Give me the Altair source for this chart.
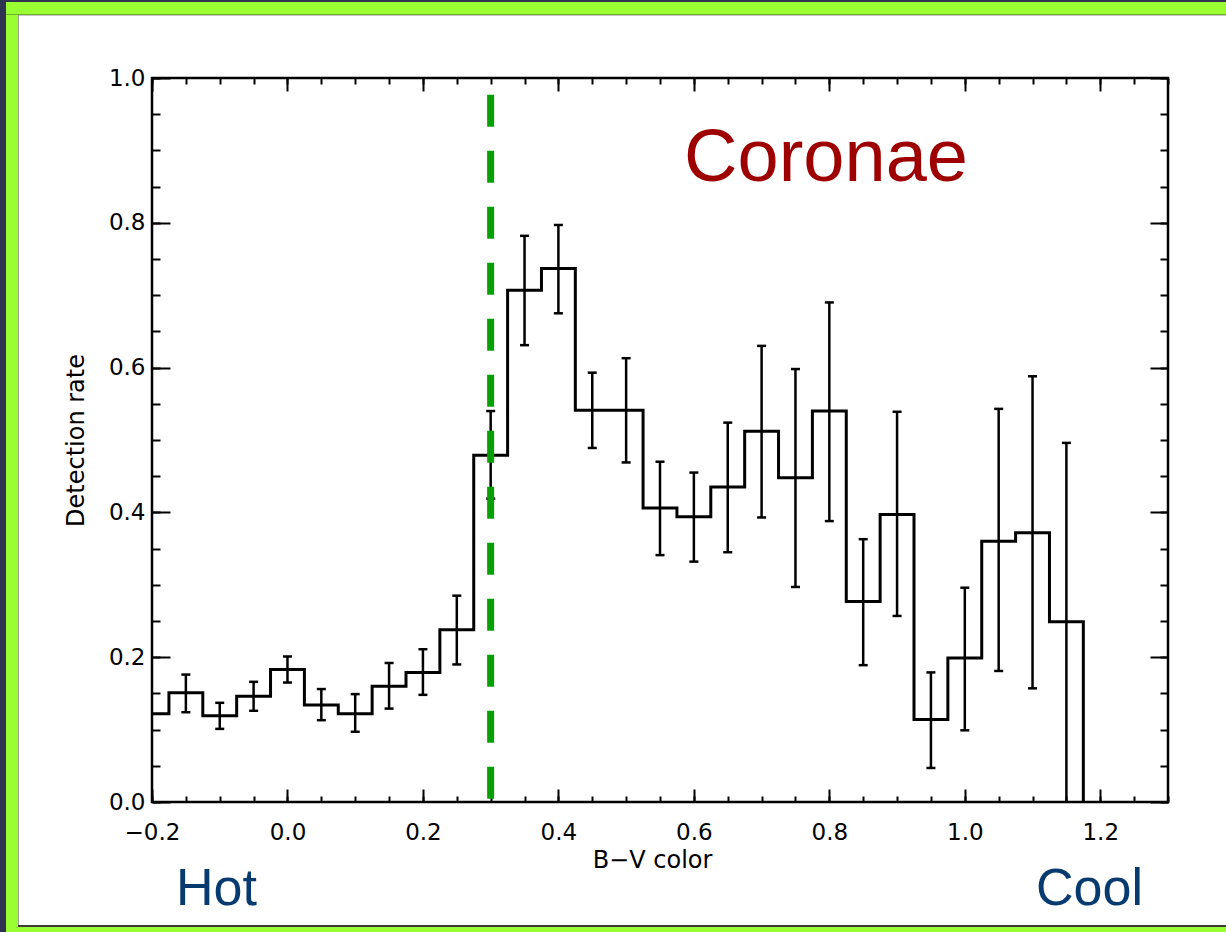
import altair as alt
import pandas as pd

# ---------------- data ----------------
bin_centers = [-0.20, -0.15, -0.10, -0.05, 0.00, 0.05, 0.10, 0.15, 0.20, 0.25,
               0.30, 0.35, 0.40, 0.45, 0.50, 0.55, 0.60, 0.65, 0.70, 0.75,
               0.80, 0.85, 0.90, 0.95, 1.00, 1.05, 1.10, 1.15]
detection_rates = [0.122, 0.151, 0.119, 0.146, 0.183, 0.134, 0.122, 0.160, 0.179, 0.238,
                   0.479, 0.707, 0.737, 0.541, 0.541, 0.406, 0.394, 0.435, 0.512, 0.448,
                   0.540, 0.277, 0.397, 0.114, 0.199, 0.360, 0.372, 0.249]
err_upper = [None, 0.176, 0.137, 0.166, 0.201, 0.156, 0.149, 0.192, 0.211, 0.285,
             0.540, 0.782, 0.797, 0.593, 0.613, 0.470, 0.455, 0.524, 0.630, 0.598,
             0.690, 0.363, 0.539, 0.179, 0.296, 0.543, 0.588, 0.496]
err_lower = [None, 0.124, 0.101, 0.126, 0.165, 0.113, 0.097, 0.129, 0.148, 0.190,
             0.419, 0.631, 0.675, 0.489, 0.469, 0.341, 0.332, 0.345, 0.393, 0.297,
             0.388, 0.189, 0.257, 0.047, 0.099, 0.181, 0.157, 0.000]

x_tick_labels = [-0.2, 0.0, 0.2, 0.4, 0.6, 0.8, 1.0, 1.2]
x_minor_ticks = [-0.2, -0.15, -0.1, -0.05, 0.0, 0.05, 0.1, 0.15, 0.2, 0.25, 0.3, 0.35,
                 0.4, 0.45, 0.5, 0.55, 0.6, 0.65, 0.7, 0.75, 0.8, 0.85, 0.9, 0.95,
                 1.0, 1.05, 1.1, 1.15, 1.2, 1.25, 1.3]
y_tick_labels = [0.0, 0.2, 0.4, 0.6, 0.8, 1.0]
y_minor_ticks = [0.0, 0.05, 0.1, 0.15, 0.2, 0.25, 0.3, 0.35, 0.4, 0.45, 0.5, 0.55,
                 0.6, 0.65, 0.7, 0.75, 0.8, 0.85, 0.9, 0.95, 1.0]

threshold_bv = [0.3]
threshold_top = [0.977]

x_domain = [-0.2, 1.3]
y_domain = [0.0, 1.0]
bin_half = 0.025

# ---------------- tables ----------------
bins = pd.DataFrame({"center": bin_centers, "rate": detection_rates,
                     "hi": err_upper, "lo": err_lower})
errs = bins.dropna().reset_index(drop=True)
step = pd.DataFrame({
    "edge": [max(c - bin_half, x_domain[0]) for c in bin_centers] + [bin_centers[-1] + bin_half],
    "rate": detection_rates + [0.0],
})
thresh = pd.DataFrame({"bv": threshold_bv, "top": threshold_top, "bottom": [0.0]})
one = pd.DataFrame({"k": [0]})

# ---------------- layout ----------------
W, H = 1016, 724
PL, PT, PR, PB = 152, 78, 58, 130
FONT = "DejaVu Sans"

xs = alt.Scale(domain=x_domain, nice=False, zero=False)
ys = alt.Scale(domain=y_domain, nice=False, zero=False)


def tick_axis(values, size, orient):
    return alt.Axis(orient=orient, values=values, labels=False, domain=False, grid=False,
                    ticks=True, tickSize=size, tickWidth=2, tickColor="black",
                    offset=-size, title="")


x_main_axis = alt.Axis(orient="bottom", values=x_tick_labels, format=".1f", domain=False,
                       ticks=False, tickSize=0, grid=False, labelFont=FONT, labelFontSize=23,
                       labelColor="black", labelPadding=19, labelFlush=False, labelOverlap=False,
                       labelBound=False,
                       title="B\u2212V color", titleFont=FONT, titleFontSize=24,
                       titleFontWeight="normal", titleColor="black", titlePadding=4,
                       titleX=652 - PL, titleAlign="center")
y_main_axis = alt.Axis(orient="left", values=y_tick_labels, format=".1f", domain=False,
                       ticks=False, tickSize=0, grid=False, labelFont=FONT, labelFontSize=23,
                       labelColor="black", labelPadding=7, labelFlush=False, labelOverlap=False,
                       labelBound=False,
                       title="Detection rate", titleFont=FONT, titleFontSize=24,
                       titleFontWeight="normal", titleColor="black", titlePadding=20)

# ---------------- slide frame ----------------
GREEN = "#99ff33"
DARK = "#2f3350"


def band(x1, x2, y1, y2, color):
    return alt.Chart(one).mark_rect(color=color, opacity=1).encode(
        x=alt.value(x1), x2=alt.value(x2), y=alt.value(y1), y2=alt.value(y2))


frame = [
    band(-PL, W + PR, -PT, 15 - PT, GREEN),
    band(-PL, 18 - PL, -PT, H + PB, GREEN),
    band(-PL, W + PR, 926 - PT, H + PB, GREEN),
    band(-PL, W + PR, 14 - PT, 15 - PT, "#6fae2a"),
    band(18 - PL, W + PR, 15 - PT, 16 - PT, "#c8c8c8"),
    band(18 - PL, 19 - PL, 15 - PT, 926 - PT, "#9a9a9a"),
    band(18 - PL, W + PR, 925 - PT, 927 - PT, "#3a3a3a"),
    band(-PL, 6 - PL, -PT, H + PB, DARK),
    band(-PL, W + PR, -PT, 2 - PT, DARK),
]

# ---------------- data layers ----------------
step_line = alt.Chart(step).mark_line(interpolate="step-after", color="black",
                                      strokeWidth=3).encode(
    x=alt.X("edge:Q", scale=xs, axis=x_main_axis),
    y=alt.Y("rate:Q", scale=ys, axis=y_main_axis),
)

err_rule = alt.Chart(errs).mark_rule(color="black", strokeWidth=2.5).encode(
    x=alt.X("center:Q", scale=xs, axis=tick_axis(x_tick_labels, 13, "bottom")),
    y=alt.Y("lo:Q", scale=ys, axis=tick_axis(y_tick_labels, 18, "left")),
    y2="hi:Q",
)

cap_hi = alt.Chart(errs).mark_tick(orient="horizontal", size=9, thickness=2.5,
                                   color="black", opacity=1).encode(
    x=alt.X("center:Q", scale=xs, axis=tick_axis(x_minor_ticks, 6, "bottom")),
    y=alt.Y("hi:Q", scale=ys, axis=tick_axis(y_minor_ticks, 8, "left")),
)

cap_lo = alt.Chart(errs).transform_filter("datum.lo > 0").mark_tick(
    orient="horizontal", size=9, thickness=2.5, color="black", opacity=1).encode(
    x=alt.X("center:Q", scale=xs, axis=tick_axis(x_tick_labels, 13, "top")),
    y=alt.Y("lo:Q", scale=ys, axis=tick_axis(y_tick_labels, 18, "right")),
)

thresh_line = alt.Chart(thresh).mark_rule(color="#079f07", strokeWidth=7,
                                          strokeDash=[32, 24]).encode(
    x=alt.X("bv:Q", scale=xs, axis=tick_axis(x_minor_ticks, 6, "top")),
    y=alt.Y("top:Q", scale=ys, axis=tick_axis(y_minor_ticks, 8, "right")),
    y2="bottom:Q",
)

coronae = alt.Chart(one).mark_text(text="Coronae", font="Liberation Sans", fontSize=74,
                                   color="#9e0000", align="center",
                                   baseline="alphabetic").encode(
    x=alt.value(826 - PL), y=alt.value(181 - PT))
hot = alt.Chart(one).mark_text(text="Hot", font="Liberation Sans", fontSize=52,
                               color="#073a6e", align="left", baseline="alphabetic").encode(
    x=alt.value(176 - PL), y=alt.value(905 - PT))
cool = alt.Chart(one).mark_text(text="Cool", font="Liberation Sans", fontSize=52,
                                color="#073a6e", align="right", baseline="alphabetic").encode(
    x=alt.value(1143 - PL), y=alt.value(905 - PT))

chart = alt.layer(
    *frame, step_line, err_rule, cap_hi, cap_lo, thresh_line, coronae, hot, cool
).resolve_axis(
    x="independent", y="independent"
).properties(
    width=W, height=H,
    padding={"left": PL, "top": PT, "right": PR, "bottom": PB},
    autosize="none",
    background="white",
).configure_view(
    stroke="black", strokeWidth=2.5, fill="white"
)

chart.save("out.html", embed_options={"renderer": "svg", "actions": False})
